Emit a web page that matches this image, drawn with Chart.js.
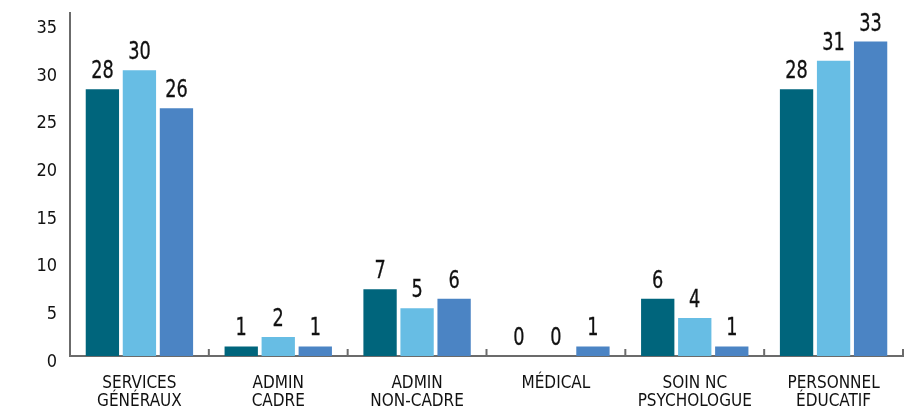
<!DOCTYPE html>
<html>
<head>
<meta charset="utf-8">
<script src="https://cdn.jsdelivr.net/npm/chart.js@4"></script>
<style>
html,body{margin:0;padding:0;background:#fff;}
#wrap{width:915px;height:408px;}
</style>
</head>
<body>
<div id="wrap"><canvas id="c" width="915" height="408"></canvas></div>
<script>
const categories = [["SERVICES","GÉNÉRAUX"],["ADMIN","CADRE"],["ADMIN","NON-CADRE"],["MÉDICAL"],["SOIN NC","PSYCHOLOGUE"],["PERSONNEL","ÉDUCATIF"]];
const series1 = [28,1,7,0,6,28];
const series2 = [30,2,5,0,4,31];
const series3 = [26,1,6,1,1,33];
const yTicks = [0,5,10,15,20,25,30,35];

const FONT = "'DejaVu Sans Condensed','DejaVu Sans',sans-serif";

const valueLabels = {
  id:'valueLabels',
  afterDatasetsDraw(chart){
    const ctx = chart.ctx;
    chart.data.datasets.forEach((ds,di)=>{
      chart.getDatasetMeta(di).data.forEach((bar,i)=>{
        ctx.save();
        ctx.font = "24px " + FONT;
        ctx.fillStyle = '#111111';
        ctx.strokeStyle = '#111111';
        ctx.lineWidth = 0.3;
        ctx.textAlign = 'center';
        ctx.textBaseline = 'alphabetic';
        ctx.translate(bar.x, bar.y - 11);
        ctx.scale(0.82, 1);
        ctx.fillText(String(ds.data[i]), 0, 0);
        ctx.strokeText(String(ds.data[i]), 0, 0);
        ctx.restore();
      });
    });
  }
};

const catTicks = {
  id:'catTicks',
  afterDraw(chart){
    const x = chart.scales.x;
    const ctx = chart.ctx;
    const n = chart.data.labels.length;
    ctx.save();
    ctx.strokeStyle = '#6b6b6b';
    ctx.lineWidth = 2;
    for(let i=1;i<=n;i++){
      const px = x.left + i * x.width / n;
      ctx.beginPath();
      ctx.moveTo(px, x.top - 7);
      ctx.lineTo(px, x.top);
      ctx.stroke();
    }
    ctx.restore();
  }
};

new Chart(document.getElementById('c'), {
  type:'bar',
  data:{
    labels: categories,
    datasets:[
      {data: series1, backgroundColor:'#00657c'},
      {data: series2, backgroundColor:'#67bde4'},
      {data: series3, backgroundColor:'#4b84c4'}
    ]
  },
  options:{
    responsive:false,
    animation:false,
    devicePixelRatio:1,
    layout:{padding:{left:0,right:12,top:13,bottom:0}},
    plugins:{legend:{display:false},tooltip:{enabled:false}},
    datasets:{bar:{categoryPercentage:0.8,barPercentage:0.9}},
    scales:{
      x:{
        grid:{display:false,drawTicks:false},
        border:{display:true,color:'#6b6b6b',width:2},
        ticks:{font:{family:FONT,size:17,lineHeight:1.08},color:'#111111',padding:18,maxRotation:0,autoSkip:false},
        afterFit(s){ s.height = 52; s.paddingLeft = 0; s.paddingRight = 0; }
      },
      y:{
        min:0,max:36,
        grid:{display:false,drawTicks:false},
        border:{display:true,color:'#6b6b6b',width:2},
        afterBuildTicks(s){ s.ticks = yTicks.map(v=>({value:v})); },
        ticks:{font:{family:FONT,size:18},color:'#111111',padding:13,labelOffset:6},
        afterFit(s){ s.width = 70; s.paddingTop = 0; s.paddingBottom = 0; }
      }
    }
  },
  plugins:[valueLabels,catTicks]
});
</script>
</body>
</html>
